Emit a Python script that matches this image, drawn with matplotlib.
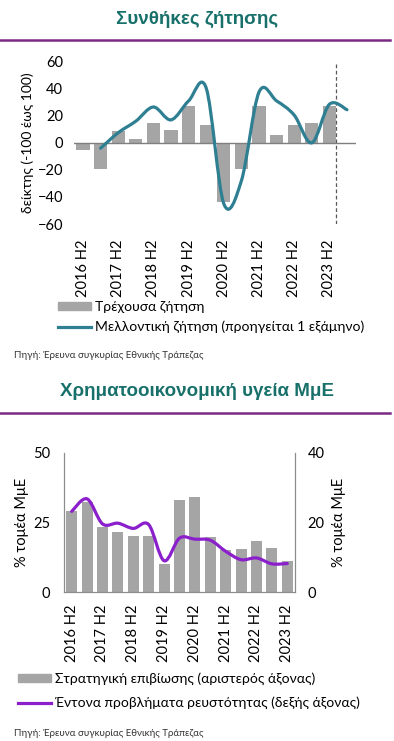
import numpy as np
import matplotlib
matplotlib.use('Agg')
import matplotlib.pyplot as plt
from matplotlib.path import Path
from matplotlib.patches import PathPatch, Patch
from matplotlib.lines import Line2D

plt.rcParams['font.family'] = ['Lato', 'Noto Sans', 'DejaVu Sans']

# --- data: demand conditions (top chart) ---
periods_top = ['2016 H2', '2017 H1', '2017 H2', '2018 H1', '2018 H2', '2019 H1',
               '2019 H2', '2020 H1', '2020 H2', '2021 H1', '2021 H2', '2022 H1',
               '2022 H2', '2023 H1', '2023 H2', '2024 H1']
current_demand = [-5, -19.5, 9, 2.5, 15, 9.5, 27, 13, -44, -19.5, 27, 5.5, 13, 15, 27]
# future demand starts at 2017 H1
future_demand = [-4, 7.5, 16, 26.5, 17, 31, 40.5, -45, -28, 37.5, 31, 20.5, 0, 28.5, 24.5]

# --- data: SME financial health (bottom chart) ---
periods_bot = periods_top[:15]
strategic_survival = [29.3, 32.3, 23.5, 21.7, 20.3, 20.3, 10, 33, 34.3, 19.7,
                      15.2, 15.6, 18.3, 15.9, 11.2]
liquidity_problems = [23.2, 26.8, 19.6, 19.8, 18.3, 19.4, 9, 15.5, 15.2, 14.9,
                      11.7, 9.3, 9.8, 8.1, 8.2]

TEAL = '#17706a'
SEP = '#7b2a82'
GRAY = '#a5a5a5'
LINE1 = '#2f7f93'
LINE2 = '#8b1fcc'


def smooth_path(x, y):
    # Catmull-Rom style smoothing drawn as cubic Bezier segments (like Excel "smoothed line")
    x = np.asarray(x, float)
    y = np.asarray(y, float)
    verts = [(x[0], y[0])]
    codes = [Path.MOVETO]
    n = len(x)
    for i in range(n - 1):
        x0, y0 = (x[i - 1], y[i - 1]) if i > 0 else (x[i], y[i])
        x3, y3 = (x[i + 2], y[i + 2]) if i + 2 < n else (x[i + 1], y[i + 1])
        c1 = (x[i] + (x[i + 1] - x0) / 6, y[i] + (y[i + 1] - y0) / 6)
        c2 = (x[i + 1] - (x3 - x[i]) / 6, y[i + 1] - (y3 - y[i]) / 6)
        verts += [c1, c2, (x[i + 1], y[i + 1])]
        codes += [Path.CURVE4] * 3
    return Path(verts, codes)


W, H = 394, 741
fig = plt.figure(figsize=(W / 100, H / 100), dpi=100)

# titles and separators
title_font = ['Liberation Sans', 'DejaVu Sans']
fig.text(0.5, 1 - 19 / H, 'Συνθήκες ζήτησης', ha='center', va='center',
         fontsize=13.5, fontweight='bold', color=TEAL, family=title_font)
fig.add_artist(Line2D([0, 390 / W], [1 - 40 / H] * 2, color=SEP, lw=1.8))
fig.text(0.5, 1 - 392 / H, 'Χρηματοοικονομική υγεία ΜμΕ', ha='center', va='center',
         fontsize=13.5, fontweight='bold', color=TEAL, family=title_font)
fig.add_artist(Line2D([0, 390 / W], [1 - 413 / H] * 2, color=SEP, lw=1.8))

# ---------------- top chart ----------------
ax1 = fig.add_axes([74.2 / W, 1 - 224 / H, (355.8 - 74.2) / W, (224 - 61.7) / H])
xt = np.arange(len(periods_top))
ax1.bar(xt[:len(current_demand)], current_demand, width=0.75, color=GRAY, zorder=2)
ax1.axhline(0, color='#7f7f7f', lw=1, zorder=3)
p = smooth_path(xt[1:1 + len(future_demand)], future_demand)
ax1.add_patch(PathPatch(p, fill=False, edgecolor=LINE1, lw=2.3, zorder=4, capstyle='round'))
ax1.axvline(14.4, color='#595959', lw=0.9, ls=(0, (3, 2)), zorder=1)
ax1.set_xlim(-0.5, len(periods_top) - 0.5)
ax1.set_ylim(-60, 60)
ax1.set_yticks(np.arange(-60, 61, 20))
ax1.set_xticks(xt[::2])
ax1.set_xticklabels(periods_top[::2], rotation=90)
for s in ax1.spines.values():
    s.set_visible(False)
ax1.tick_params(axis='both', length=0, labelsize=10.5)
ax1.tick_params(axis='y', pad=8)
ax1.tick_params(axis='x', pad=11)
ax1.set_ylabel('δείκτης (-100 έως 100)', fontsize=10)
ax1.yaxis.set_label_coords(-0.143, 0.5)

leg1 = fig.legend(handles=[Patch(color=GRAY, label='Τρέχουσα ζήτηση'),
                           Line2D([], [], color=LINE1, lw=2.3,
                                  label='Μελλοντική ζήτηση (προηγείται 1 εξάμηνο)')],
                  loc='upper left', bbox_to_anchor=(52 / W, 1 - 295 / H),
                  frameon=False, fontsize=10, handlelength=2.4, handleheight=0.5,
                  handletextpad=0.3, labelspacing=0.6, borderaxespad=0)
fig.text(14 / W, 1 - 355 / H, 'Πηγή: Έρευνα συγκυρίας Εθνικής Τράπεζας',
         fontsize=7, va='center', color='#333333')

# ---------------- bottom chart ----------------
ax2 = fig.add_axes([64 / W, 1 - 592 / H, (295 - 64) / W, (592 - 453) / H])
xb = np.arange(len(periods_bot))
ax2.bar(xb, strategic_survival, width=0.72, color=GRAY, zorder=2)
ax2.set_xlim(-0.5, len(periods_bot) - 0.5)
ax2.set_ylim(0, 50)
ax2.set_yticks([0, 25, 50])
ax2.set_xticks(xb[::2])
ax2.set_xticklabels(periods_bot[::2], rotation=90)
ax2.set_ylabel('% τομέα ΜμΕ', fontsize=10.5)
ax2.yaxis.set_label_coords(-0.152, 0.5)
ax3 = ax2.twinx()
ax3.add_patch(PathPatch(smooth_path(xb, liquidity_problems), fill=False,
                        edgecolor=LINE2, lw=2.3, zorder=4, capstyle='round'))
ax3.set_ylim(0, 40)
ax3.set_yticks([0, 20, 40])
ax3.set_ylabel('% τομέα ΜμΕ', fontsize=10.5)
ax3.yaxis.set_label_coords(1.16, 0.5)
for a in (ax2, ax3):
    a.spines['top'].set_visible(False)
    for k in ('left', 'right', 'bottom'):
        a.spines[k].set_color('#8c8c8c')
    a.tick_params(axis='both', length=0, labelsize=10.5)
ax2.tick_params(axis='y', pad=10)
ax3.tick_params(axis='y', pad=9)
ax2.tick_params(axis='x', pad=9)

leg2 = fig.legend(handles=[Patch(color=GRAY, label='Στρατηγική επιβίωσης (αριστερός άξονας)'),
                           Line2D([], [], color=LINE2, lw=2.3,
                                  label='Έντονα προβλήματα ρευστότητας (δεξής άξονας)')],
                  loc='upper left', bbox_to_anchor=(12 / W, 1 - 667 / H),
                  frameon=False, fontsize=10, handlelength=2.4, handleheight=0.5,
                  handletextpad=0.3, labelspacing=0.8, borderaxespad=0)
fig.text(14 / W, 1 - 733 / H, 'Πηγή: Έρευνα συγκυρίας Εθνικής Τράπεζας',
         fontsize=7, va='center', color='#333333')

fig.savefig('out.png', dpi=100)
